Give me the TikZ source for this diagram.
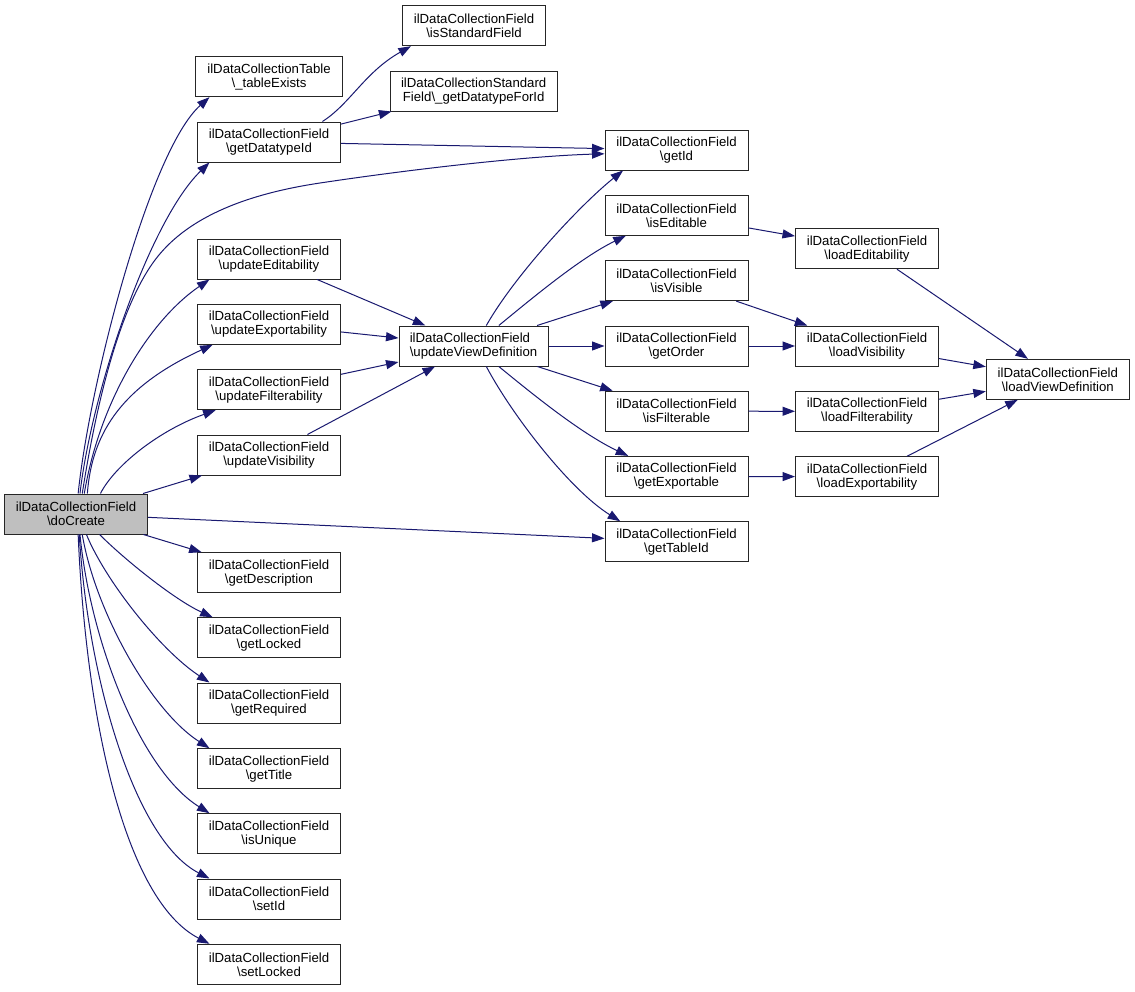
\documentclass[tikz,border=0pt]{standalone}
\usepackage{fontspec}
\setmainfont{Liberation Sans}
\usetikzlibrary{arrows.meta}
\definecolor{edgeblue}{RGB}{25,25,112}
\definecolor{nodegray}{RGB}{191,191,191}
\newcommand\mybs{\textbackslash}
\begin{document}
\begin{tikzpicture}[x=1pt,y=-1pt,
  fn/.style={draw=black!85, line width=1pt, fill=white, inner sep=0pt, minimum height=40pt, minimum width=143pt, align=center, font=\fontsize{13.2}{14}\selectfont},
  cedge/.style={draw=edgeblue, line width=1pt, -{Triangle[length=12.5pt,width=9pt]}}]
\useasboundingbox[fill=white] (0,0) rectangle (1135,991);

% nodes
\node[fn, fill=nodegray, minimum width=143.4pt] (doCreate) at (76,514) {ilDataCollectionField\\\mybs doCreate};
\node[fn, minimum width=147pt] (tableExists) at (269,76.7) {ilDataCollectionTable\\\mybs\_tableExists};
\node[fn] (getDatatypeId) at (269,142) {ilDataCollectionField\\\mybs getDatatypeId};
\node[fn] (isStandardField) at (474,25.7) {ilDataCollectionField\\\mybs isStandardField};
\node[fn, minimum width=166.7pt] (getDatatypeForId) at (473.7,91) {ilDataCollectionStandard\\Field\mybs\_getDatatypeForId};
\node[fn] (updEdit) at (269,259) {ilDataCollectionField\\\mybs updateEditability};
\node[fn] (updExport) at (269,324.3) {ilDataCollectionField\\\mybs updateExportability};
\node[fn] (updFilter) at (269,389.7) {ilDataCollectionField\\\mybs updateFilterability};
\node[fn] (updVis) at (269,455) {ilDataCollectionField\\\mybs updateVisibility};
\node[fn] (getDescription) at (269,572.7) {ilDataCollectionField\\\mybs getDescription};
\node[fn] (getLocked) at (269,637.7) {ilDataCollectionField\\\mybs getLocked};
\node[fn] (getRequired) at (269,703) {ilDataCollectionField\\\mybs getRequired};
\node[fn] (getTitle) at (269,768.7) {ilDataCollectionField\\\mybs getTitle};
\node[fn] (isUnique) at (269,833.7) {ilDataCollectionField\\\mybs isUnique};
\node[fn] (setId) at (269,899) {ilDataCollectionField\\\mybs setId};
\node[fn] (setLocked) at (269,964.3) {ilDataCollectionField\\\mybs setLocked};
\node[fn, minimum width=149pt, align=left] (uvd) at (473.5,346) {ilDataCollectionField\\\mybs updateViewDefinition};
\node[fn] (getId) at (676.5,150) {ilDataCollectionField\\\mybs getId};
\node[fn] (isEditable) at (676.5,215.3) {ilDataCollectionField\\\mybs isEditable};
\node[fn] (isVisible) at (676.5,280.6) {ilDataCollectionField\\\mybs isVisible};
\node[fn] (getOrder) at (676.5,346) {ilDataCollectionField\\\mybs getOrder};
\node[fn] (isFilterable) at (676.5,411.2) {ilDataCollectionField\\\mybs isFilterable};
\node[fn] (getExportable) at (676.5,476.4) {ilDataCollectionField\\\mybs getExportable};
\node[fn] (getTableId) at (676.5,541.7) {ilDataCollectionField\\\mybs getTableId};
\node[fn] (loadEdit) at (867,248.7) {ilDataCollectionField\\\mybs loadEditability};
\node[fn] (loadVis) at (867,346) {ilDataCollectionField\\\mybs loadVisibility};
\node[fn] (loadFilter) at (867,411.3) {ilDataCollectionField\\\mybs loadFilterability};
\node[fn] (loadExport) at (867,476.7) {ilDataCollectionField\\\mybs loadExportability};
\node[fn] (lvd) at (1057.8,379.3) {ilDataCollectionField\\\mybs loadViewDefinition};

% edges from doCreate (upwards)
\draw[cedge] (doCreate.84) .. controls (90,380) and (150,150) .. (tableExists.199);
\draw[cedge] (doCreate.79) .. controls (92,390) and (150,220) .. (getDatatypeId.199);
\draw[cedge] (doCreate.73) .. controls (100,380) and (125,300) .. (155,260)
  .. controls (185,220) and (240,195) .. (320,183)
  .. controls (420,168) and (530,156) .. (getId.183);
\draw[cedge] (doCreate.68) .. controls (100,400) and (150,320) .. (updEdit.199);
\draw[cedge] (doCreate.61) .. controls (92,430) and (125,385) .. (updExport.200);
\draw[cedge] (doCreate.40) .. controls (115,465) and (160,430) .. (updFilter.201);
\draw[cedge] (doCreate) -- (updVis);
\draw[cedge] (doCreate) -- (getTableId);
% edges from doCreate (downwards)
\draw[cedge] (doCreate) -- (getDescription);
\draw[cedge] (doCreate.-41) .. controls (125,560) and (175,600) .. (getLocked.160);
\draw[cedge] (doCreate.-63) .. controls (105,580) and (160,650) .. (getRequired.161);
\draw[cedge] (doCreate.-73) .. controls (95,610) and (150,710) .. (getTitle.161);
\draw[cedge] (doCreate.-79) .. controls (90,640) and (140,770) .. (isUnique.161);
\draw[cedge] (doCreate.-81) .. controls (88,680) and (135,840) .. (setId.161);
\draw[cedge] (doCreate.-84) .. controls (86,720) and (125,900) .. (setLocked.161);

% getDatatypeId
\draw[cedge] (getDatatypeId.21) .. controls (350,104) and (365,72) .. (isStandardField.198);
\draw[cedge] (getDatatypeId) -- (getDatatypeForId);
\draw[cedge] (getDatatypeId) -- (getId);

% update* -> updateViewDefinition
\draw[cedge] (updEdit) -- (uvd);
\draw[cedge] (updExport) -- (uvd);
\draw[cedge] (updFilter) -- (uvd);
\draw[cedge] (updVis) -- (uvd);

% updateViewDefinition -> right column
\draw[cedge] (uvd.58) .. controls (515,275) and (580,205) .. (getId.201);
\draw[cedge] (uvd.39) .. controls (530,300) and (580,258) .. (isEditable.202);
\draw[cedge] (uvd) -- (isVisible);
\draw[cedge] (uvd) -- (getOrder);
\draw[cedge] (uvd) -- (isFilterable);
\draw[cedge] (uvd.-39) .. controls (530,392) and (580,433) .. (getExportable.157);
\draw[cedge] (uvd.-58) .. controls (512,415) and (570,490) .. (getTableId.160);

% right column -> load*
\draw[cedge] (isEditable) -- (loadEdit);
\draw[cedge] (isVisible) -- (loadVis);
\draw[cedge] (getOrder) -- (loadVis);
\draw[cedge] (isFilterable) -- (loadFilter);
\draw[cedge] (getExportable) -- (loadExport);

% load* -> loadViewDefinition
\draw[cedge] (loadEdit) -- (lvd);
\draw[cedge] (loadVis) -- (lvd);
\draw[cedge] (loadFilter) -- (lvd);
\draw[cedge] (loadExport) -- (lvd);
\end{tikzpicture}
\end{document}
